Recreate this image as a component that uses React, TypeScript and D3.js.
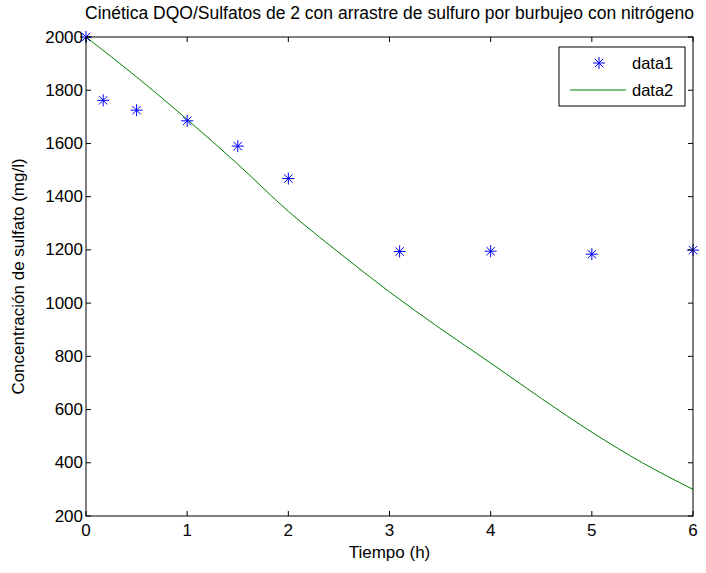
import * as d3 from 'd3';
import React, { useEffect, useRef } from 'react';

// measured points (data1)
const tMeasured = [0, 0.17, 0.5, 1, 1.5, 2, 3.1, 4, 5, 6];
const sulfMeasured = [2000, 1762, 1725, 1685, 1590, 1468, 1194, 1195, 1184, 1199];

// model curve (data2)
const tModel = [0, 0.5, 1, 1.5, 2, 2.5, 3, 3.5, 4, 4.5, 5, 5.5, 6];
const sulfModel = [2000, 1850, 1690, 1522, 1345, 1190, 1042, 905, 775, 642, 515, 400, 300];

const xTicks = [0, 1, 2, 3, 4, 5, 6];
const yTicks = [200, 400, 600, 800, 1000, 1200, 1400, 1600, 1800, 2000];

const W = 706;
const H = 573;
const FONT = 'Liberation Sans, Arial, sans-serif';
const FS = 17;

const App: React.FC = () => {
  const ref = useRef<SVGSVGElement | null>(null);

  useEffect(() => {
    const svg = d3.select(ref.current);
    svg.selectAll('*').remove();

    const left = 86;
    const right = 693;
    const top = 37;
    const bottom = 516;

    const x = d3.scaleLinear().domain([0, 6]).range([left, right]);
    const y = d3.scaleLinear().domain([200, 2000]).range([bottom, top]);

    svg.append('rect').attr('width', W).attr('height', H).attr('fill', '#fff');

    // model line
    const line = d3
      .line<number>()
      .x((_, i) => x(tModel[i]))
      .y(d => y(d))
      .curve(d3.curveMonotoneX);

    svg
      .append('path')
      .datum(sulfModel)
      .attr('d', line)
      .attr('fill', 'none')
      .attr('stroke', '#008000')
      .attr('stroke-width', 1);

    // star markers
    const star = (g: d3.Selection<SVGGElement, unknown, null, undefined>, cx: number, cy: number) => {
      const r = 6;
      const d = 4.2;
      g.append('path')
        .attr(
          'd',
          `M${cx - r},${cy}L${cx + r},${cy}M${cx},${cy - r}L${cx},${cy + r}` +
            `M${cx - d},${cy - d}L${cx + d},${cy + d}M${cx - d},${cy + d}L${cx + d},${cy - d}`,
        )
        .attr('stroke', '#0000ff')
        .attr('stroke-width', 1)
        .attr('fill', 'none');
    };

    const markers = svg.append('g');
    sulfMeasured.forEach((v, i) => star(markers, x(tMeasured[i]), y(v)));

    // axes box
    svg
      .append('rect')
      .attr('x', left)
      .attr('y', top)
      .attr('width', right - left)
      .attr('height', bottom - top)
      .attr('fill', 'none')
      .attr('stroke', '#000')
      .attr('stroke-width', 1);

    const tickLen = 5;
    xTicks.forEach(t => {
      const px = x(t);
      svg.append('line').attr('x1', px).attr('x2', px).attr('y1', bottom).attr('y2', bottom - tickLen).attr('stroke', '#000');
      svg.append('line').attr('x1', px).attr('x2', px).attr('y1', top).attr('y2', top + tickLen).attr('stroke', '#000');
      svg
        .append('text')
        .attr('x', px)
        .attr('y', 536)
        .attr('text-anchor', 'middle')
        .attr('font-family', FONT)
        .attr('font-size', FS)
        .text(t);
    });

    yTicks.forEach(t => {
      const py = y(t);
      svg.append('line').attr('x1', left).attr('x2', left + tickLen).attr('y1', py).attr('y2', py).attr('stroke', '#000');
      svg.append('line').attr('x1', right).attr('x2', right - tickLen).attr('y1', py).attr('y2', py).attr('stroke', '#000');
      svg
        .append('text')
        .attr('x', left - 3)
        .attr('y', py)
        .attr('text-anchor', 'end')
        .attr('dominant-baseline', 'central')
        .attr('font-family', FONT)
        .attr('font-size', FS)
        .text(t);
    });

    // title & labels
    svg
      .append('text')
      .attr('x', (left + right) / 2)
      .attr('y', 19)
      .attr('text-anchor', 'middle')
      .attr('font-family', FONT)
      .attr('font-size', 17.5)
      .text('Cinética DQO/Sulfatos de 2 con arrastre de sulfuro por burbujeo con nitrógeno');

    svg
      .append('text')
      .attr('x', (left + right) / 2)
      .attr('y', 558)
      .attr('text-anchor', 'middle')
      .attr('font-family', FONT)
      .attr('font-size', FS)
      .text('Tiempo (h)');

    svg
      .append('text')
      .attr('transform', `translate(24,${(top + bottom) / 2}) rotate(-90)`)
      .attr('text-anchor', 'middle')
      .attr('font-family', FONT)
      .attr('font-size', FS)
      .text('Concentración de sulfato (mg/l)');

    // legend
    const lg = svg.append('g');
    lg.append('rect')
      .attr('x', 559)
      .attr('y', 47)
      .attr('width', 126)
      .attr('height', 59)
      .attr('fill', '#fff')
      .attr('stroke', '#000');
    star(lg, 599, 63);
    lg.append('line').attr('x1', 570).attr('x2', 626).attr('y1', 90).attr('y2', 90).attr('stroke', '#008000');
    ['data1', 'data2'].forEach((s, i) => {
      lg.append('text')
        .attr('x', 632)
        .attr('y', 63 + i * 27)
        .attr('dominant-baseline', 'central')
        .attr('font-family', FONT)
        .attr('font-size', 16.5)
        .text(s);
    });
  }, []);

  return <svg ref={ref} width={W} height={H} style={{ display: 'block', position: 'absolute', left: 0, top: 0 }} />;
};

export default App;
